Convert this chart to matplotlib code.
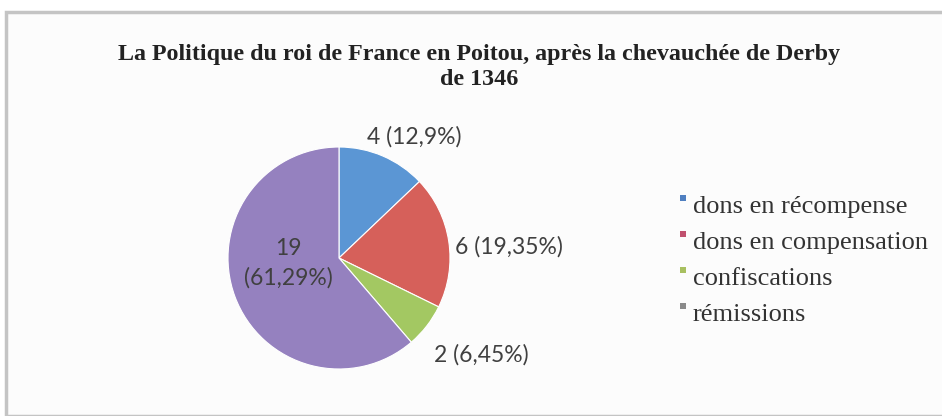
import matplotlib.pyplot as plt
from matplotlib.patches import Rectangle

title = "La Politique du roi de France en Poitou, après la chevauchée de Derby\nde 1346"
categories = ["dons en récompense", "dons en compensation", "confiscations", "rémissions"]
counts = [4, 6, 2, 19]
pct_labels = ["4 (12,9%)", "6 (19,35%)", "2 (6,45%)", "19\n(61,29%)"]

colors = ["#5B96D4", "#D6605A", "#A3C862", "#9581BF"]
legend_colors = ["#4F7FC0", "#C0506E", "#A8C060", "#8A8A8A"]

W, H = 942, 416
fig = plt.figure(figsize=(W / 100, H / 100), dpi=100)
fig.patch.set_facecolor("white")

# chart frame
fig.patches.append(Rectangle((6 / W, 0), 1.0, 1 - 12 / H, transform=fig.transFigure,
                             facecolor="#fcfcfc", edgecolor="#c4c4c4", lw=2.5, zorder=-5))

fig.text(479 / W, 1 - 67 / H, title, ha="center", va="center", fontsize=17.3,
         fontweight="bold", family="Liberation Serif", color="#222222", linespacing=1.25)

cx, cy, r = 339, 258, 111
ax = fig.add_axes([(cx - r) / W, (H - cy - r) / H, 2 * r / W, 2 * r / H])
ax.patch.set_visible(False)
ax.set_zorder(2)
wedges, _ = ax.pie(counts, colors=colors, startangle=90, counterclock=False, radius=1,
                   wedgeprops=dict(edgecolor="white", linewidth=0.8))
ax.set_xlim(-1, 1)
ax.set_ylim(-1, 1)

# data label positions (in pie radius units) and alignment
label_pos = [(0.68, 1.09, "center"), (1.045, 0.10, "left"),
             (1.28, -0.87, "center"), (-0.46, -0.045, "center")]
for lab, (x, y, ha) in zip(pct_labels, label_pos):
    ax.text(x, y, lab, ha=ha, va="center", fontsize=16.5, family="Lato",
            color="#404040", linespacing=1.45, clip_on=False)

# legend
for i, (c, name) in enumerate(zip(legend_colors, categories)):
    y = 1 - (207 + i * 36) / H
    fig.patches.append(Rectangle((680 / W, y + 6 / H), 6 / W, 6 / H, transform=fig.transFigure,
                                 facecolor=c, edgecolor="none"))
    fig.text(693 / W, y, name, ha="left", va="center", fontsize=19,
             family="Liberation Serif", color="#333333")

fig.savefig("out.png", dpi=100)
